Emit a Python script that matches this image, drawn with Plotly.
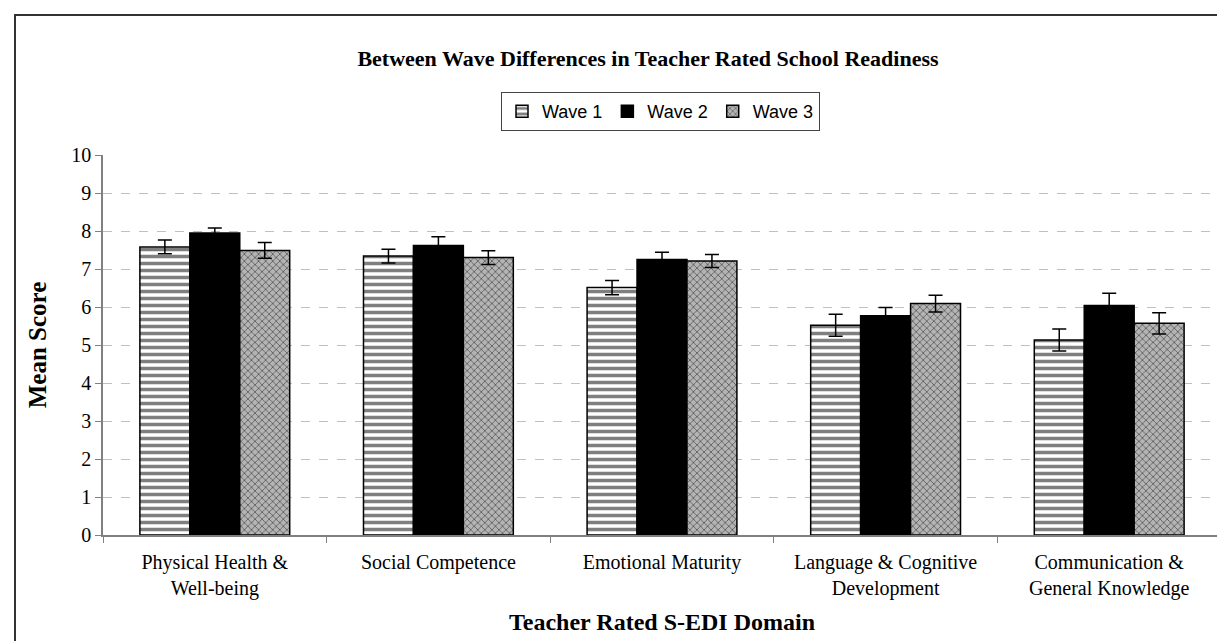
import plotly.graph_objects as go

categories = ["Physical Health &<br>Well-being", "Social Competence", "Emotional Maturity",
              "Language & Cognitive<br>Development", "Communication &<br>General Knowledge"]
wave1 = [7.58, 7.34, 6.51, 5.52, 5.13]
wave2 = [7.95, 7.62, 7.25, 5.77, 6.04]
wave3 = [7.49, 7.30, 7.21, 6.09, 5.57]
err1 = [0.18, 0.18, 0.19, 0.29, 0.29]
err2 = [0.13, 0.23, 0.19, 0.22, 0.32]
err3 = [0.21, 0.18, 0.17, 0.22, 0.28]
series_names = ["Wave 1", "Wave 2", "Wave 3"]

W, H = 1225, 641
L, R, T, B = 95, 12, 147, 114
pw, ph = W - L - R, H - T - B

def px2x(px):
    return (px - L) / pw

def py2y(py):
    return (H - B - py) / ph

SERIF = "Liberation Serif, Times New Roman, serif"
SANS = "Liberation Sans, Arial, sans-serif"
err_style = dict(type="data", color="black", thickness=1.5, width=7, visible=True)

fig = go.Figure()
fig.add_trace(go.Bar(
    x=categories, y=wave1, name=series_names[0],
    error_y=dict(array=err1, **err_style),
    marker=dict(color="white", line=dict(color="black", width=1.5),
                pattern=dict(shape="-", fgcolor="black", bgcolor="white", size=7, solidity=0.5)),
))
fig.add_trace(go.Bar(
    x=categories, y=wave2, name=series_names[1],
    error_y=dict(array=err2, **err_style),
    marker=dict(color="black", line=dict(color="black", width=1.5)),
))
fig.add_trace(go.Bar(
    x=categories, y=wave3, name=series_names[2],
    error_y=dict(array=err3, **err_style),
    marker=dict(color="#909090", line=dict(color="black", width=1.5),
                pattern=dict(shape="x", fgcolor="black", bgcolor="#b4b4b4", size=5, solidity=0.3)),
))

fig.update_layout(
    width=W, height=H,
    margin=dict(l=L, r=R, t=T, b=B),
    paper_bgcolor="white", plot_bgcolor="white",
    barmode="group", bargap=0.33, bargroupgap=0,
    font=dict(family=SERIF, size=20, color="black"),
    title=dict(text="<b>Between Wave Differences in Teacher Rated School Readiness</b>",
               x=px2x(640), xanchor="center", xref="paper",
               y=1 - 50 / H, yanchor="middle",
               font=dict(family=SERIF, size=22)),
    legend=dict(orientation="h", x=px2x(493), xanchor="left", y=py2y(84), yanchor="top",
                xref="paper", yref="paper",
                bordercolor="#444", borderwidth=1, bgcolor="white",
                font=dict(family=SANS, size=18),
                itemwidth=30, tracegroupgap=0),
    showlegend=True,
)
fig.update_yaxes(range=[0, 10], dtick=1, showgrid=True, gridcolor="#c0c0c0", griddash="dash",
                 gridwidth=1, showline=True, linecolor="#808080", linewidth=1.5,
                 ticks="outside", ticklen=6, tickcolor="#808080", zeroline=False,
                 tickfont=dict(size=20),
                 title=dict(text="<b>Mean Score</b>", font=dict(size=25), standoff=18))
fig.update_xaxes(showline=True, linecolor="#808080", linewidth=1.5, ticks="outside",
                 tickson="boundaries", ticklen=6, tickcolor="#808080",
                 tickfont=dict(size=20), ticklabelstandoff=8,
                 title=dict(text="<b>Teacher Rated S-EDI Domain</b>", font=dict(size=24), standoff=14))

fig.add_shape(type="rect", xref="paper", yref="paper",
              x0=px2x(7), x1=px2x(W + 10), y0=py2y(H + 10), y1=py2y(7),
              line=dict(color="#333333", width=2), fillcolor="rgba(0,0,0,0)", layer="above")

fig.write_html("out.html")
